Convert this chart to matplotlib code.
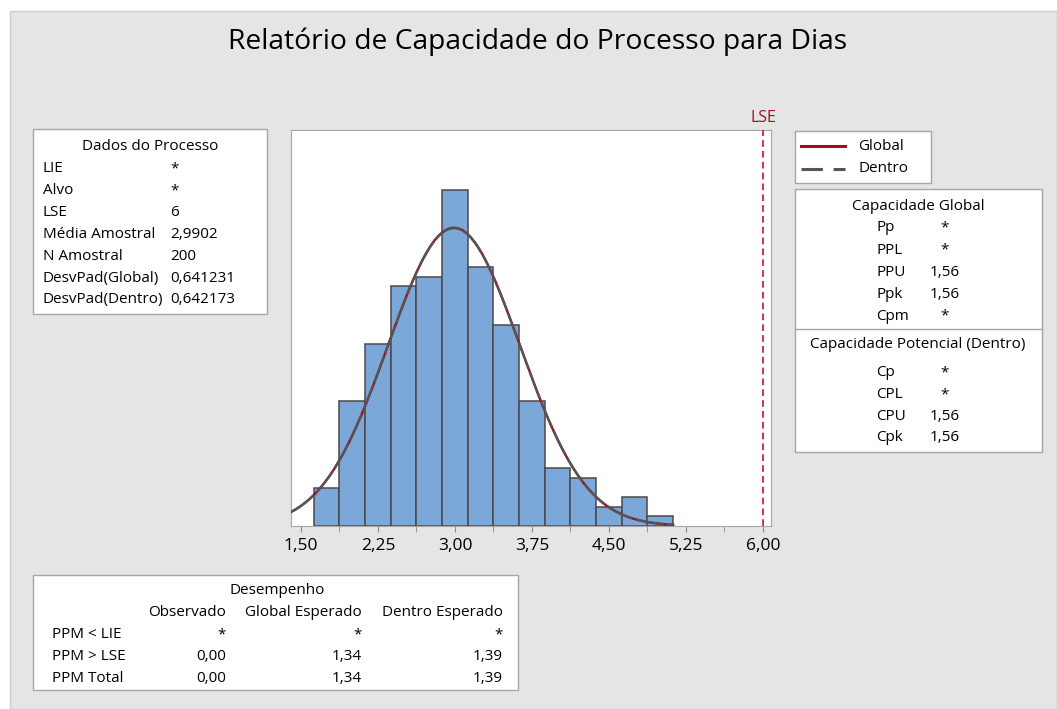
import numpy as np
import matplotlib
matplotlib.use("Agg")
import matplotlib.pyplot as plt
from matplotlib.patches import Rectangle
from matplotlib.lines import Line2D

plt.rcParams['font.family'] = ['Open Sans', 'DejaVu Sans']

W, H = 1057, 709

# dados do processo
lie = None
alvo = None
lse = 6.0
media = 2.9902
n_amostral = 200
desv_global = 0.641231
desv_dentro = 0.642173

# histograma (classes de largura 0,25)
bin_start = 1.625
bin_width = 0.25
counts = [4, 13, 19, 25, 26, 35, 27, 21, 13, 6, 5, 2, 3, 1]

major_ticks = [1.50, 2.25, 3.00, 3.75, 4.50, 5.25, 6.00]
tick_labels = ["1,50", "2,25", "3,00", "3,75", "4,50", "5,25", "6,00"]

dados_labels = ["LIE", "Alvo", "LSE", "Média Amostral", "N Amostral",
                "DesvPad(Global)", "DesvPad(Dentro)"]
dados_values = ["*", "*", "6", "2,9902", "200", "0,641231", "0,642173"]

cap_global_labels = ["Pp", "PPL", "PPU", "Ppk", "Cpm"]
cap_global_values = ["*", "*", "1,56", "1,56", "*"]
cap_pot_labels = ["Cp", "CPL", "CPU", "Cpk"]
cap_pot_values = ["*", "*", "1,56", "1,56"]

desemp_cols = ["Observado", "Global Esperado", "Dentro Esperado"]
desemp_rows = ["PPM < LIE", "PPM > LSE", "PPM Total"]
desemp_values = [["*", "*", "*"],
                 ["0,00", "1,34", "1,39"],
                 ["0,00", "1,34", "1,39"]]

RED = "#a50d18"
GRAY = "#555555"
BAR = "#7ba7d9"
TXT = "#000000"
FS = 11


def fx(x):
    return x / W


def fy(y):
    return 1 - y / H


def box(x0, y0, x1, y1):
    fig.patches.append(Rectangle((fx(x0), fy(y1)), fx(x1 - x0), (y1 - y0) / H,
                                 transform=fig.transFigure, facecolor="white",
                                 edgecolor="#a6a6a6", lw=1.0, zorder=1))


def txt(x, y, s, ha="left", size=FS, color=TXT):
    fig.text(fx(x), fy(y), s, ha=ha, va="center", fontsize=size, color=color, zorder=3)


fig = plt.figure(figsize=(W / 100, H / 100), dpi=100)
fig.patch.set_facecolor("white")
fig.patches.append(Rectangle((fx(10), 0), 1 - fx(10), fy(11), transform=fig.transFigure,
                             facecolor="#e5e5e5", edgecolor="#cccccc", lw=1.0, zorder=-5))

txt(538, 42, "Relatório de Capacidade do Processo para Dias", ha="center", size=20.3)

# histograma
ax = fig.add_axes([fx(291), fy(526), fx(771 - 291), (526 - 130) / H])
edges = bin_start + bin_width * np.arange(len(counts) + 1)
mids = (edges[:-1] + edges[1:]) / 2
ax.bar(mids, counts, width=bin_width, color=BAR, edgecolor="#4a4a4a", lw=1.1, zorder=2)

x0, x1 = 1.403, 6.078
xs = np.linspace(x0, edges[-1], 400)


def curve(sd):
    return n_amostral * bin_width * np.exp(-0.5 * ((xs - media) / sd) ** 2) / (sd * np.sqrt(2 * np.pi))


ax.plot(xs, curve(desv_global), color=RED, lw=1.7, zorder=3)
ax.plot(xs, curve(desv_dentro), color=GRAY, lw=1.7, dashes=(12, 1.3), zorder=4)

ax.axvline(lse, color="#c8102e", lw=1.2, dashes=(4, 2.5), zorder=5)
ax.text(lse, 1.03, "LSE", transform=ax.get_xaxis_transform(), ha="center", va="center",
        fontsize=FS + 0.5, color="#a01020")

ax.set_xlim(x0, x1)
ax.set_ylim(0, 41.3)
ax.set_yticks([])
ax.set_xticks(major_ticks)
ax.set_xticklabels(tick_labels, fontsize=12.5, color=TXT)
ax.set_xticks(np.array(major_ticks[:-1]) + 0.375, minor=True)
ax.tick_params(axis="x", which="both", direction="out", length=4, color="#8a8a8a", pad=5)
for s in ax.spines.values():
    s.set_color("#a6a6a6")

# legenda
box(795, 131, 931, 183)
fig.lines.append(Line2D([fx(801), fx(845)], [fy(146), fy(146)], transform=fig.transFigure,
                        color=RED, lw=2.2, zorder=3))
fig.lines.append(Line2D([fx(801), fx(845)], [fy(169), fy(169)], transform=fig.transFigure,
                        color=GRAY, lw=2.2, dashes=(7, 3.5), zorder=3))
txt(858, 146, "Global")
txt(858, 169, "Dentro")

# dados do processo
box(33, 129, 267, 314)
txt(150, 146, "Dados do Processo", ha="center")
for i, (lab, val) in enumerate(zip(dados_labels, dados_values)):
    y = 169 + i * 21.8
    txt(43, y, lab)
    txt(170, y, val)

# capacidade
box(795, 189, 1042, 452)
fig.lines.append(Line2D([fx(795), fx(1042)], [fy(329), fy(329)], transform=fig.transFigure,
                        color="#a6a6a6", lw=1.0, zorder=2))
txt(918, 206, "Capacidade Global", ha="center")
for i, (lab, val) in enumerate(zip(cap_global_labels, cap_global_values)):
    y = 228 + i * 22
    txt(876, y, lab)
    txt(945, y, val, ha="center")
txt(918, 345, "Capacidade Potencial (Dentro)", ha="center")
for i, (lab, val) in enumerate(zip(cap_pot_labels, cap_pot_values)):
    y = 373 + i * 21.5
    txt(876, y, lab)
    txt(945, y, val, ha="center")

# desempenho
box(33, 575, 518, 690)
txt(277, 591, "Desempenho", ha="center")
col_right = [226, 362, 503]
for xr, col in zip(col_right, desemp_cols):
    txt(xr, 613, col, ha="right")
for i, row in enumerate(desemp_rows):
    y = 635 + i * 21.5
    txt(52, y, row)
    for xr, val in zip(col_right, desemp_values[i]):
        txt(xr, y, val, ha="right")

fig.savefig("out.png", dpi=100)
